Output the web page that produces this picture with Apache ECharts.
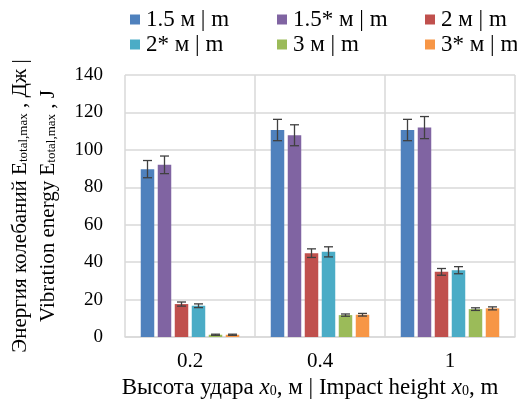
<!DOCTYPE html>
<html><head><meta charset="utf-8">
<script src="https://cdn.jsdelivr.net/npm/echarts@6/dist/echarts.min.js"></script>
<style>html,body{margin:0;padding:0;background:#fff}#c{width:517px;height:403px}</style>
</head><body><div id="c"></div>
<script>
const categories = ['0.2', '0.4', '1'];
const seriesNames = ['1.5 м | m', '1.5* м | m', '2 м | m', '2* м | m', '3 м | m', '3* м | m'];
const val_15  = [89.7, 110.6, 110.6];
const err_15  = [4.6, 5.7, 5.7];
const val_15s = [92.0, 107.8, 111.9];
const err_15s = [4.7, 5.6, 5.9];
const val_2   = [17.6, 44.8, 34.8];
const err_2   = [1.1, 2.3, 1.8];
const val_2s  = [16.7, 45.5, 35.7];
const err_2s  = [1.0, 2.7, 1.9];
const val_3   = [1.2, 11.7, 14.9];
const err_3   = [0.3, 0.6, 0.7];
const val_3s  = [1.2, 11.9, 15.3];
const err_3s  = [0.3, 0.7, 0.8];
const yTicks = [0, 20, 40, 60, 80, 100, 120, 140];

const values = [val_15, val_15s, val_2, val_2s, val_3, val_3s];
const errors = [err_15, err_15s, err_2, err_2s, err_3, err_3s];
const colors = ['#4F81BD', '#8064A2', '#C0504D', '#4BACC6', '#9BBB59', '#F79646'];
const FONT = 'Liberation Serif';
const BW = 13.5, GAP = 3.5;

const series = [];
values.forEach((vals, i) => {
  series.push({
    name: seriesNames[i], type: 'bar', data: vals, barWidth: BW, barGap: (GAP / BW * 100) + '%',
    itemStyle: { color: colors[i] }
  });
});
values.forEach((vals, i) => {
  const off = (i - 2.5) * (BW + GAP);
  series.push({
    name: 'err' + i, type: 'custom', z: 5,
    data: vals.map((v, k) => [k, v, errors[i][k]]),
    renderItem: function (params, api) {
      const k = api.value(0), v = api.value(1), e = api.value(2);
      const top = api.coord([k, v + e]);
      const bot = api.coord([k, v - e]);
      const x = top[0] + off;
      const cw = 4.5;
      const st = { stroke: '#404040', lineWidth: 1.3 };
      return { type: 'group', children: [
        { type: 'line', shape: { x1: x, y1: top[1], x2: x, y2: bot[1] }, style: st },
        { type: 'line', shape: { x1: x - cw, y1: top[1], x2: x + cw, y2: top[1] }, style: st },
        { type: 'line', shape: { x1: x - cw, y1: bot[1], x2: x + cw, y2: bot[1] }, style: st }
      ]};
    }
  });
});

const legendBase = {
  orient: 'vertical', itemWidth: 10, itemHeight: 10, itemGap: 2, top: 8,
  icon: 'rect', padding: 0,
  textStyle: { fontFamily: FONT, fontSize: 23, color: '#000', padding: [0, 0, 0, 1] }
};

const chart = echarts.init(document.getElementById('c'));
chart.setOption({
  animation: false,
  color: colors,
  legend: [
    Object.assign({}, legendBase, { left: 130, data: [seriesNames[0], seriesNames[3]] }),
    Object.assign({}, legendBase, { left: 277, data: [seriesNames[1], seriesNames[4]] }),
    Object.assign({}, legendBase, { left: 425, data: [seriesNames[2], seriesNames[5]] })
  ],
  grid: { left: 125, right: 2, top: 75, bottom: 66, containLabel: false, outerBoundsMode: 'none' },
  xAxis: {
    type: 'category', data: categories,
    axisLine: { lineStyle: { color: '#d9d9d9', width: 1.5 } },
    axisTick: { show: false },
    splitLine: { show: true, lineStyle: { color: '#d9d9d9', width: 1.5 } },
    axisLabel: { fontFamily: FONT, fontSize: 21, color: '#000', margin: 14 },
    name: 'Высота удара {i|x}{s|0}{a|, м | Impact height }{i|x}{s|0}{a|, m}',
    nameLocation: 'middle', nameGap: 39,
    nameTextStyle: {
      fontFamily: FONT, fontSize: 23, color: '#000', padding: [0, 20, 0, 0],
      rich: {
        a: { fontFamily: FONT, fontSize: 23, color: '#000' },
        i: { fontFamily: FONT, fontSize: 23, fontStyle: 'italic', color: '#000' },
        s: { fontFamily: FONT, fontSize: 14, color: '#000', padding: [6, 0, 0, 0] }
      }
    }
  },
  yAxis: {
    type: 'value', min: 0, max: 140, interval: 20,
    axisLine: { show: false }, axisTick: { show: false },
    splitLine: { lineStyle: { color: '#d9d9d9', width: 1.5 } },
    axisLabel: { fontFamily: FONT, fontSize: 19, color: '#000', margin: 22 },
    name: '{a|Энергия колебаний E}{s|total,max}{a| , Дж |}\n{a|Vibration energy E}{s|total,max}{a| , J}',
    nameLocation: 'middle', nameRotate: 90, nameGap: 63,
    nameTextStyle: {
      fontFamily: FONT, fontSize: 21, color: '#000', lineHeight: 28,
      rich: {
        a: { fontFamily: FONT, fontSize: 21, color: '#000', lineHeight: 28 },
        s: { fontFamily: FONT, fontSize: 13, color: '#000', lineHeight: 28, padding: [8, 0, 0, 0] }
      }
    }
  },
  series: series
});
</script>
</body></html>
